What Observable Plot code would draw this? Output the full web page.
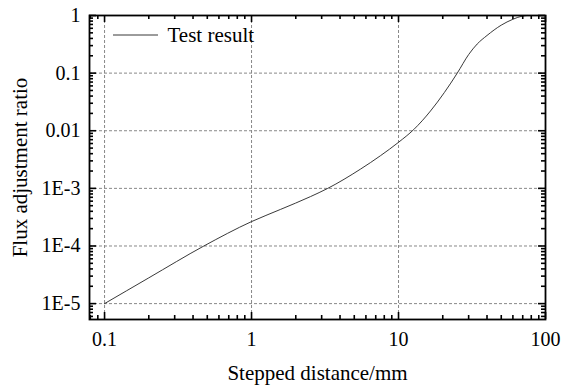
<!DOCTYPE html>
<html><head><meta charset="utf-8">
<script src="https://cdn.jsdelivr.net/npm/d3@7"></script>
<script src="https://cdn.jsdelivr.net/npm/@observablehq/plot@0.6"></script>
<style>body{margin:0;background:#fff}</style>
</head><body><div id="chart"></div>
<script>
// Data
const distance = [0.1, 0.2, 0.474, 1, 1.57, 2.52, 3.3, 5.5, 7.55, 10, 12.7, 16.5, 20.5, 25.1, 30, 34.3, 40, 50, 60, 70, 75];
const ratio    = [1e-5, 2.8e-5, 1e-4, 2.65e-4, 4.3e-4, 7.2e-4, 1e-3, 2.15e-3, 3.7e-3, 6.3e-3, 0.0105, 0.022, 0.046, 0.1, 0.21, 0.32, 0.45, 0.68, 0.86, 0.98, 1.0];

const xMajor = [0.1, 1, 10, 100];
const xMajorLabels = ["0.1", "1", "10", "100"];
const yMajor = [1e-5, 1e-4, 1e-3, 0.01, 0.1, 1];
const yMajorLabels = ["1E-5", "1E-4", "1E-3", "0.01", "0.1", "1"];
const xMinor = [0.08, 0.09, 0.2, 0.3, 0.4, 0.5, 0.6, 0.7, 0.8, 0.9, 2, 3, 4, 5, 6, 7, 8, 9, 20, 30, 40, 50, 60, 70, 80, 90];
const yMinorMult = [2, 3, 4, 5, 6, 7, 8, 9];
const yMinorDecades = [1e-6, 1e-5, 1e-4, 1e-3, 0.01, 0.1];

const xLabel = "Stepped distance/mm";
const yLabel = "Flux adjustment ratio";
const legendLabel = "Test result";

const yMinor = yMinorDecades.flatMap(d => yMinorMult.map(m => d * m)).filter(v => v >= 5.3e-6 && v < 1);
const data = distance.map((d, i) => ({distance: d, ratio: ratio[i]}));
const xFmt = new Map(xMajor.map((v, i) => [v, xMajorLabels[i]]));
const yFmt = new Map(yMajor.map((v, i) => [v, yMajorLabels[i]]));

const W = 561, H = 387, mL = 89, mR = 16, mT = 15, mB = 68;
const pH = H - mT - mB, pW = W - mL - mR;
const font = "'Liberation Serif', 'Times New Roman', serif";
const grid = {stroke: "#888", strokeOpacity: 1, strokeWidth: 1, strokeDasharray: "3,2"};
const majorLen = 7, minorLen = 4;
const tk = {stroke: "#000", strokeOpacity: 1, strokeWidth: 1.6};

const chart = Plot.plot({
  width: W, height: H,
  marginLeft: mL, marginRight: mR, marginTop: mT, marginBottom: mB,
  style: {fontFamily: font, fontSize: "20px", color: "#000", background: "#fff"},
  x: {type: "log", domain: [0.079, 100]},
  y: {type: "log", domain: [5.3e-6, 1]},
  marks: [
    Plot.gridX(xMajor, grid),
    Plot.gridY(yMajor, grid),
    Plot.line(data, {x: "distance", y: "ratio", curve: "monotone-x", stroke: "#222", strokeWidth: 0.9}),
    // inward ticks on all four sides
    Plot.ruleX(xMajor, {x: d => d, insetTop: pH - majorLen, ...tk}),
    Plot.ruleX(xMinor, {x: d => d, insetTop: pH - minorLen, ...tk}),
    Plot.ruleX(xMajor, {x: d => d, insetBottom: pH - majorLen, ...tk}),
    Plot.ruleX(xMinor, {x: d => d, insetBottom: pH - minorLen, ...tk}),
    Plot.ruleY(yMajor, {y: d => d, insetRight: pW - majorLen, ...tk}),
    Plot.ruleY(yMinor, {y: d => d, insetRight: pW - minorLen, ...tk}),
    Plot.ruleY(yMajor, {y: d => d, insetLeft: pW - majorLen, ...tk}),
    Plot.ruleY(yMinor, {y: d => d, insetLeft: pW - minorLen, ...tk}),
    Plot.axisX(xMajor, {anchor: "bottom", tickSize: 0, tickPadding: 12, tickFormat: d => xFmt.get(d), fontSize: 20, fontFamily: font, label: null}),
    Plot.axisY(yMajor, {anchor: "left", tickSize: 0, tickPadding: 9, tickFormat: d => yFmt.get(d), fontSize: 20, fontFamily: font, label: null}),
    Plot.text([xLabel], {frameAnchor: "bottom", dy: 54, lineAnchor: "middle", fontSize: 21, fontFamily: font}),
    Plot.text([yLabel], {frameAnchor: "left", dx: -69, rotate: -90, textAnchor: "middle", lineAnchor: "middle", fontSize: 21, fontFamily: font}),
    Plot.text([legendLabel], {frameAnchor: "top-left", dx: 78, dy: 20, textAnchor: "start", lineAnchor: "middle", fontSize: 21, fontFamily: font}),
    Plot.frame({stroke: "#000", strokeWidth: 1.8})
  ]
});

// legend swatch line
d3.select(chart).append("line")
  .attr("x1", 113).attr("x2", 158).attr("y1", 35).attr("y2", 35)
  .attr("stroke", "#222").attr("stroke-width", 0.9);

document.getElementById("chart").appendChild(chart);
</script>
</body></html>
